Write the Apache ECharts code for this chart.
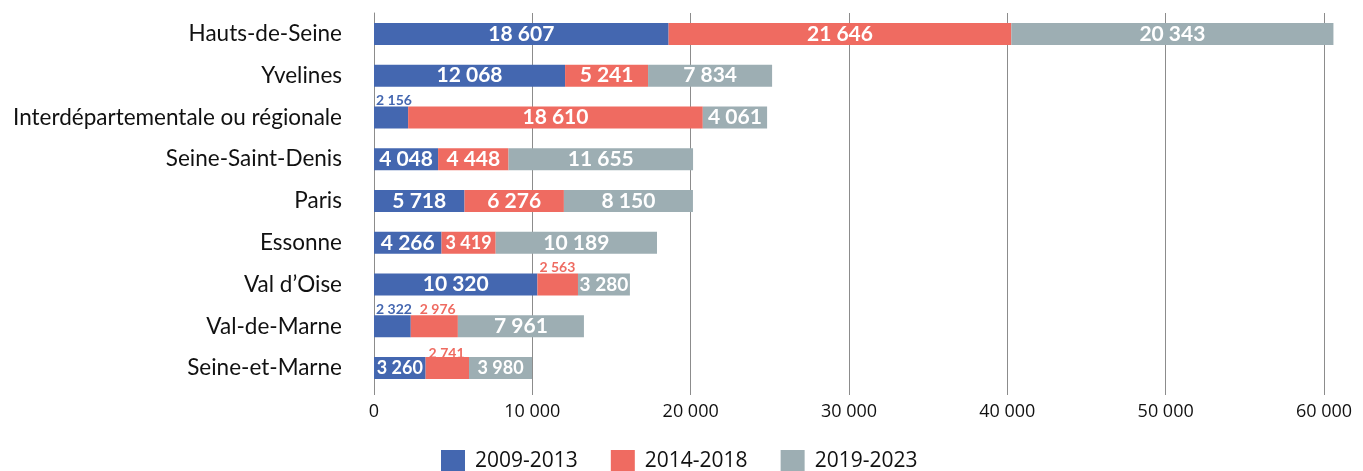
<!DOCTYPE html>
<html>
<head>
<meta charset="utf-8">
<script src="https://cdn.jsdelivr.net/npm/echarts@6/dist/echarts.min.js"></script>
<style>html,body{margin:0;padding:0;background:#fff}#c{width:1363px;height:471px}</style>
</head>
<body>
<div id="c"></div>
<script>
const categories = ["Hauts-de-Seine","Yvelines","Interdépartementale ou régionale","Seine-Saint-Denis","Paris","Essonne","Val d’Oise","Val-de-Marne","Seine-et-Marne"];
const periods = ["2009-2013","2014-2018","2019-2023"];
const s2009 = [18607,12068,2156,4048,5718,4266,10320,2322,3260];
const s2014 = [21646,5241,18610,4448,6276,3419,2563,2976,2741];
const s2019 = [20343,7834,4061,11655,8150,10189,3280,7961,3980];
const xTicks = [0,10000,20000,30000,40000,50000,60000];

const colors = ["#4467B0","#EF6B61","#9DAEB3"];
const fmt = v => String(v).replace(/\B(?=(\d{3})+(?!\d))/g, " ");

// label style overrides: [seriesIndex][dataIndex]
const above = (color, dx, dy) => ({position:[dx,dy], align:'left', verticalAlign:'bottom', color:color, fontSize:14, fontWeight:'bold'});
const overrides = {
  0: {2: above(colors[0],2,1), 7: above(colors[0],2,1), 8:{fontSize:18}},
  1: {5:{fontSize:18}, 6: above(colors[1],2,1), 7: above(colors[1],9,1), 8: above(colors[1],3,3)},
  2: {6:{fontSize:19}, 8:{fontSize:18}}
};

const seriesData = [s2009, s2014, s2019];
const series = seriesData.map((arr, si) => ({
  name: periods[si],
  type: 'bar',
  stack: 'total',
  barWidth: 22,
  clip: false,
  itemStyle: {color: colors[si]},
  label: {show:true, position:'inside', color:'#fff', fontFamily:'Lato', fontWeight:'bold', fontSize:21, formatter: p => fmt(p.value)},
  data: arr.map((v, i) => {
    const o = overrides[si] && overrides[si][i];
    return o ? {value: v, label: o} : {value: v};
  })
}));

const chart = echarts.init(document.getElementById('c'), null, {renderer:'canvas'});
chart.setOption({
  animation: false,
  grid: {left: 374, right: 39, top: 13, bottom: 82},
  legend: {
    data: periods, left: 441, top: 450, itemWidth: 24, itemHeight: 22, itemGap: 33,
    icon: 'rect', padding: 0,
    textStyle: {fontFamily:'Open Sans', fontSize: 21, color:'#111', padding:[0,0,0,5]}
  },
  xAxis: {
    type: 'value', min: 0, max: 60000, interval: 10000,
    axisLine: {show:false},
    axisTick: {show:true, length:6, lineStyle:{color:'#8c8c8c'}},
    splitLine: {show:true, lineStyle:{color:'#8c8c8c', width:1}},
    axisLabel: {margin: 14, fontFamily:'Open Sans', fontSize:18, color:'#111', formatter: v => fmt(v)}
  },
  yAxis: {
    type: 'category', data: categories, inverse: true,
    axisLine: {show:true, lineStyle:{color:'#8c8c8c', width:1}},
    axisTick: {show:false},
    axisLabel: {margin: 32, fontFamily:'Lato', fontSize:22.5, color:'#111'}
  },
  series: series
});
</script>
</body>
</html>
